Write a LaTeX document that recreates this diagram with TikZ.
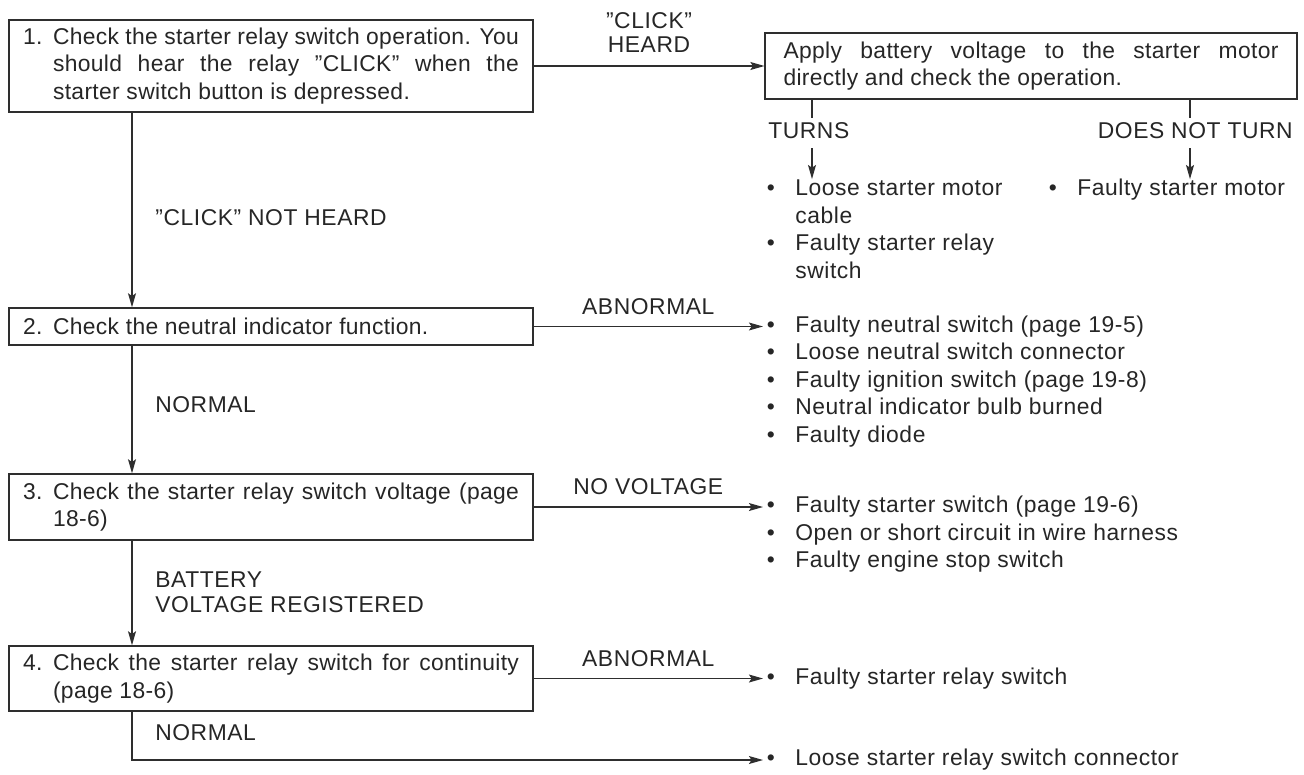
\documentclass[tikz,border=0pt]{standalone}
\usepackage{fontspec}
\setmainfont[LetterSpace=2.5]{Liberation Sans}
\newfontfamily\boxfamily[LetterSpace=1.5,Ligatures=TeX]{Liberation Sans}
\usetikzlibrary{arrows.meta}
\newcommand{\mfont}{\fontsize{13pt}{15.6pt}\selectfont}
\newcommand{\bfontx}{\boxfamily\fontsize{13pt}{15.6pt}\selectfont}
\newcommand{\lfont}{\fontsize{13pt}{14.2pt}\selectfont}
\newcommand{\hang}[1]{\hbox to 0.6cm{#1\hfil}}
\newcommand{\bul}{\hbox to 0.64cm{\hspace{2pt}\textbullet\hfil}}
\newcommand{\nob}{\hbox to 0.64cm{\hfil}}
\tikzset{
  ink/.style={draw=black!82},
  box/.style={ink, line width=0.7pt, font=\bfontx, text=black!85, align=left,
              inner ysep=0pt, inner xsep=0.28cm},
  conn/.style={ink, line width=0.8pt, -{Stealth[length=8pt,width=4.5pt,inset=1.5pt]}},
  plain/.style={ink, line width=0.8pt},
  item/.style={font=\mfont, text=black!85, inner sep=0pt, anchor=west,
               text height=9.4pt, text depth=2.6pt},
  lbl/.style={font=\mfont, text=black!85, inner sep=0pt,
              text height=9.4pt, text depth=2.6pt},
  lbltwo/.style={font=\lfont, text=black!85, inner sep=0pt, align=center}
}
\begin{document}
\begin{tikzpicture}[x=0.02cm,y=-0.02cm]
\useasboundingbox[fill=white] (0,0) rectangle (1304,774);

% spine and branch x positions
\coordinate (sp) at (132,0);
\coordinate (tx) at (812,0);
\coordinate (dx) at (1190,0);

% boxes
\node[box, minimum height=1.84cm] (b1) at (271,66) {%
\hbox to 9.92cm{\hang{1.}Check the starter relay switch operation. You}\\
\hbox to 9.92cm{\hang{}should hear the relay ''CLICK'' when the}\\
\hbox to 9.92cm{\hang{}starter switch button is depressed.\hfil}};

\node[box, inner xsep=0.37cm, minimum height=1.32cm] (ap) at (1031,66) {%
\hbox to 9.9cm{Apply battery voltage to the starter motor}\\
\hbox to 9.9cm{directly and check the operation.\hfil}};

\node[box, minimum height=0.74cm] (b2) at (271,326.5) {%
\hbox to 9.92cm{\hang{2.}Check the neutral indicator function.\hfil}};

\node[box, minimum height=1.32cm] (b3) at (271,507) {%
\hbox to 9.92cm{\hang{3.}Check the starter relay switch voltage (page}\\
\hbox to 9.92cm{\hang{}18-6)\hfil}};

\node[box, minimum height=1.3cm] (b4) at (271,678.5) {%
\hbox to 9.92cm{\hang{4.}Check the starter relay switch for continuity}\\
\hbox to 9.92cm{\hang{}(page 18-6)\hfil}};

% result lists
\node[item] (t1) at (763,190) {\bul Loose starter motor};
\node[item] (t2) at (763,217.5) {\nob cable};
\node[item] (t3) at (763,245) {\bul Faulty starter relay};
\node[item] (t4) at (763,272.5) {\nob switch};
\node[item] (f1) at (1045,190) {\bul Faulty starter motor};

\node[item] (n1) at (763,326.5) {\bul Faulty neutral switch (page 19-5)};
\node[item] (n2) at (763,354) {\bul Loose neutral switch connector};
\node[item] (n3) at (763,381.5) {\bul Faulty ignition switch (page 19-8)};
\node[item] (n4) at (763,409) {\bul Neutral indicator bulb burned};
\node[item] (n5) at (763,436.5) {\bul Faulty diode};

\node[item] (s1) at (763,507) {\bul Faulty starter switch (page 19-6)};
\node[item] (s2) at (763,534.5) {\bul Open or short circuit in wire harness};
\node[item] (s3) at (763,562) {\bul Faulty engine stop switch};

\node[item] (r1) at (763,678.5) {\bul Faulty starter relay switch};
\node[item] (r2) at (763,760) {\bul Loose starter relay switch connector};

% branch labels under the apply box
\node[lbl, anchor=west, inner ysep=2.5pt] (tu) at (768,133) {TURNS};
\node[lbl, anchor=east, inner ysep=2.5pt] (dn) at (1293,133) {DOES NOT TURN};

% left side labels
\node[lbl, anchor=west] (nh) at (155,220) {''CLICK'' NOT HEARD};
\node[lbl, anchor=west] (nm1) at (155,407) {NORMAL};
\node[lbltwo, align=left, anchor=west] (bv) at (155,592.5) {BATTERY\\VOLTAGE REGISTERED};
\node[lbl, anchor=west] (nm2) at (155,735) {NORMAL};

% connectors
\draw[conn] (b1.south -| sp) -- (b2.north -| sp);
\draw[conn] (b2.south -| sp) -- (b3.north -| sp);
\draw[conn] (b3.south -| sp) -- (b4.north -| sp);
\draw[conn] (b4.south -| sp) |- (r2.west);

\draw[conn] (b1.east) -- node[lbltwo, above=7pt] (clk) {''CLICK''\\HEARD} (b1.east -| ap.west);
\draw[conn] (b2.east) -- node[lbl, above=4pt] (ab1) {ABNORMAL} (n1.west);
\draw[conn] (b3.east) -- node[lbl, above=4pt] (nv) {NO VOLTAGE} (s1.west);
\draw[conn] (b4.east) -- node[lbl, above=4pt] (ab2) {ABNORMAL} (r1.west);

\draw[plain] (ap.south -| tx) -- (tu.north -| tx);
\draw[conn] (tu.south -| tx) -- (t1.north -| tx);
\draw[plain] (ap.south -| dx) -- (dn.north -| dx);
\draw[conn] (dn.south -| dx) -- (f1.north -| dx);
\end{tikzpicture}
\end{document}
